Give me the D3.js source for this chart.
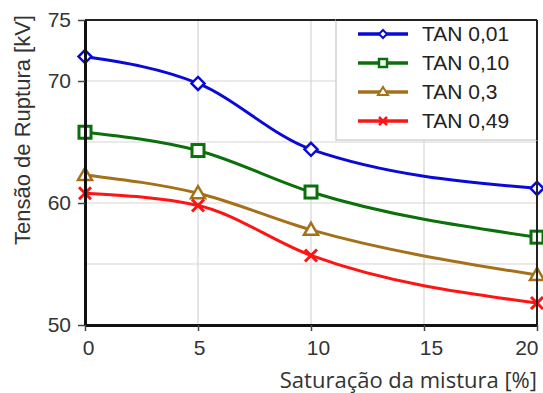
<!DOCTYPE html>
<html>
<head>
<meta charset="utf-8">
<script src="https://cdn.jsdelivr.net/npm/d3@7"></script>
<style>
  html, body { margin: 0; padding: 0; background: #ffffff; }
  svg { display: block; }
  .tick text { font-family: "Liberation Sans", Arial, sans-serif; font-size: 21px; fill: #333; }
</style>
</head>
<body>
<svg id="chart" width="543" height="393"></svg>
<script>
// Saturation of the mixture (%) along x
const saturation = [0, 5, 10, 20];

// Breakdown voltage (kV) for each TAN level
const tan001 = [72.0, 69.8, 64.4, 61.2];
const tan010 = [65.8, 64.3, 60.9, 57.2];
const tan03  = [62.3, 60.8, 57.8, 54.1];
const tan049 = [60.8, 59.8, 55.7, 51.8];

const seriesNames = ["TAN 0,01", "TAN 0,10", "TAN 0,3", "TAN 0,49"];

// Axis ticks
const xTicks = [0, 5, 10, 15, 20];
const yTickLabels = [50, 60, 70, 75];
const yGrid = [55, 60, 65, 70];
const xGrid = [5, 10, 15];

const series = [
  { name: seriesNames[0], values: tan001, color: "#0a0ad8", marker: "diamond" },
  { name: seriesNames[1], values: tan010, color: "#0b700b", marker: "square" },
  { name: seriesNames[2], values: tan03,  color: "#a5701a", marker: "triangle" },
  { name: seriesNames[3], values: tan049, color: "#ff1414", marker: "cross" }
];

const svg = d3.select("#chart");
const pLeft = 85, pRight = 537, pTop = 20, pBottom = 325;

const x = d3.scaleLinear().domain([0, 20]).range([pLeft, pRight]);
const y = d3.scaleLinear().domain([50, 75]).range([pBottom, pTop]);

// Grid
const grid = svg.append("g").attr("stroke", "#d6d6d6").attr("stroke-width", 1.2);
grid.selectAll(".gx").data(xGrid).join("line")
  .attr("x1", d => x(d)).attr("x2", d => x(d))
  .attr("y1", pTop).attr("y2", pBottom);
grid.selectAll(".gy").data(yGrid).join("line")
  .attr("x1", pLeft).attr("x2", pRight)
  .attr("y1", d => y(d)).attr("y2", d => y(d));

// Lines
const line = d3.line()
  .x((d, i) => x(saturation[i]))
  .y(d => y(d))
  .curve(d3.curveMonotoneX);

svg.append("g").selectAll("path").data(series).join("path")
  .attr("fill", "none")
  .attr("stroke", d => d.color)
  .attr("stroke-width", 3)
  .attr("d", d => line(d.values));

// Marker drawing
function drawMarker(g, type, color, cx, cy) {
  if (type === "diamond") {
    g.append("path")
      .attr("d", `M${cx},${cy - 6.5}L${cx + 6.5},${cy}L${cx},${cy + 6.5}L${cx - 6.5},${cy}Z`)
      .attr("fill", "#fff").attr("stroke", color).attr("stroke-width", 2.5);
  } else if (type === "square") {
    g.append("rect")
      .attr("x", cx - 6).attr("y", cy - 6).attr("width", 12).attr("height", 12)
      .attr("fill", "#fff").attr("stroke", color).attr("stroke-width", 3);
  } else if (type === "triangle") {
    g.append("path")
      .attr("d", `M${cx},${cy - 7}L${cx + 7},${cy + 5}L${cx - 7},${cy + 5}Z`)
      .attr("fill", "#fff").attr("stroke", color).attr("stroke-width", 2.5);
  } else {
    g.append("path")
      .attr("d", `M${cx - 6},${cy - 6}L${cx + 6},${cy + 6}M${cx + 6},${cy - 6}L${cx - 6},${cy + 6}`)
      .attr("fill", "none").attr("stroke", color).attr("stroke-width", 3);
  }
}

const markers = svg.append("g");
series.forEach(s => {
  s.values.forEach((v, i) => drawMarker(markers, s.marker, s.color, x(saturation[i]), y(v)));
});

// Frame top/right
svg.append("line").attr("x1", pLeft).attr("x2", pRight).attr("y1", pTop).attr("y2", pTop)
  .attr("stroke", "#222").attr("stroke-width", 2);
svg.append("line").attr("x1", pRight).attr("x2", pRight).attr("y1", pTop).attr("y2", pBottom)
  .attr("stroke", "#222").attr("stroke-width", 2);

// Axes
const yAxis = d3.axisLeft(y).tickValues(yTickLabels).tickSize(7).tickPadding(7).tickSizeOuter(0);
const yg = svg.append("g").attr("transform", `translate(${pLeft},0)`).call(yAxis);
yg.select(".domain").attr("stroke", "#111").attr("stroke-width", 3);
yg.selectAll(".tick line").attr("stroke", "#444").attr("stroke-width", 1.5);

const xAxis = d3.axisBottom(x).tickValues(xTicks).tickSize(6).tickPadding(9).tickSizeOuter(0);
const xg = svg.append("g").attr("transform", `translate(0,${pBottom})`).call(xAxis);
xg.select(".domain").attr("stroke", "#111").attr("stroke-width", 3);
xg.selectAll(".tick line").attr("stroke", "#444").attr("stroke-width", 1.5);
// labels sit a little right of their ticks; the last one stays inside the frame edge
xg.selectAll(".tick text")
  .attr("dx", d => d === 0 ? 3 : d === 5 ? 1 : 7)
  .filter(d => d === 20).attr("text-anchor", "end").attr("dx", 1);

// Axis titles
svg.append("text")
  .attr("x", 537).attr("y", 388)
  .attr("text-anchor", "end")
  .attr("font-family", "'Open Sans', sans-serif")
  .attr("font-size", 22)
  .attr("fill", "#333")
  .text("Saturação da mistura [%]");

svg.append("text")
  .attr("transform", "translate(30,130) rotate(-90)")
  .attr("text-anchor", "middle")
  .attr("font-family", "'Liberation Sans', Arial, sans-serif")
  .attr("font-size", 22)
  .attr("fill", "#333")
  .text("Tensão de Ruptura [kV]");

// Legend
const lg = svg.append("g");
lg.append("rect")
  .attr("x", 336).attr("y", pTop).attr("width", pRight - 336).attr("height", 120)
  .attr("fill", "#fff").attr("stroke", "#c8c8c8").attr("stroke-width", 1.2);
// frame edges drawn again over the legend border
lg.append("line").attr("x1", 336).attr("x2", pRight).attr("y1", pTop).attr("y2", pTop)
  .attr("stroke", "#222").attr("stroke-width", 2);
lg.append("line").attr("x1", pRight).attr("x2", pRight).attr("y1", pTop).attr("y2", 140)
  .attr("stroke", "#222").attr("stroke-width", 2);

series.forEach((s, i) => {
  const cy = 34 + i * 29;
  lg.append("line").attr("x1", 358).attr("x2", 408).attr("y1", cy).attr("y2", cy)
    .attr("stroke", s.color).attr("stroke-width", 3.5);
  const sm = lg.append("g");
  if (s.marker === "diamond") {
    sm.append("path").attr("d", `M383,${cy - 4}L387,${cy}L383,${cy + 4}L379,${cy}Z`)
      .attr("fill", "#fff").attr("stroke", s.color).attr("stroke-width", 2);
  } else if (s.marker === "square") {
    sm.append("rect").attr("x", 379).attr("y", cy - 4).attr("width", 8).attr("height", 8)
      .attr("fill", "#fff").attr("stroke", s.color).attr("stroke-width", 2.5);
  } else if (s.marker === "triangle") {
    sm.append("path").attr("d", `M383,${cy - 5}L388,${cy + 3}L378,${cy + 3}Z`)
      .attr("fill", "#fff").attr("stroke", s.color).attr("stroke-width", 2);
  } else {
    sm.append("path").attr("d", `M379,${cy - 4}L387,${cy + 4}M387,${cy - 4}L379,${cy + 4}`)
      .attr("stroke", s.color).attr("stroke-width", 2.5);
  }
  lg.append("text")
    .attr("x", 422).attr("y", cy + 7)
    .attr("font-family", "'Liberation Sans', Arial, sans-serif")
    .attr("font-size", 21)
    .attr("fill", "#222")
    .text(s.name);
});
</script>
</body>
</html>
